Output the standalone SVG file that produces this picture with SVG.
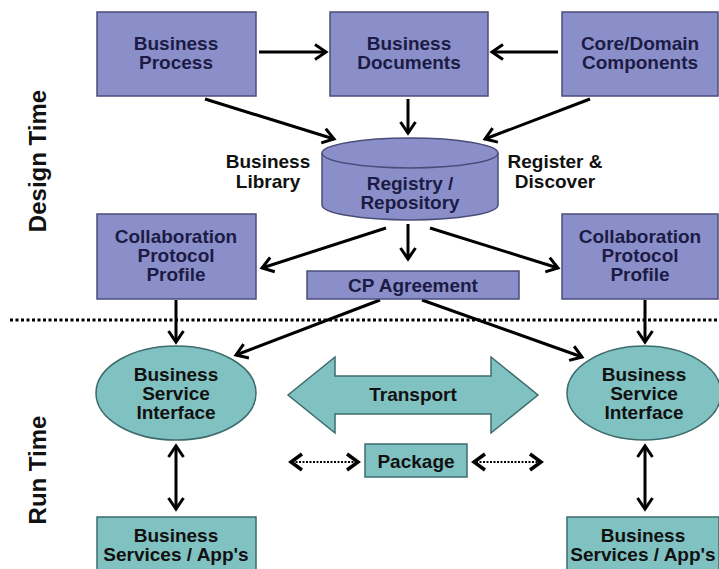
<svg xmlns="http://www.w3.org/2000/svg" width="719" height="569" viewBox="0 0 719 569">
<style>
.p{fill:#8b8fc9;stroke:#4a4d78;stroke-width:1.5}
.t{fill:#80c1c1;stroke:#3d6b6b;stroke-width:1.5}
text{font-family:"Liberation Sans",Arial,sans-serif;font-weight:bold;font-size:19px;text-anchor:middle}
.dk{fill:#1b1b45}
.bk{fill:#111}
.side{font-size:24px}
.c{stroke:#000;stroke-width:3;fill:none}
.d{stroke:#000;stroke-width:2;fill:none;stroke-dasharray:2 1.5}
.h{stroke:#000;stroke-width:3.5;fill:none}
</style>
<defs>
<marker id="a" markerUnits="userSpaceOnUse" markerWidth="20" markerHeight="20" refX="12" refY="8" orient="auto-start-reverse" viewBox="0 0 20 16">
<path d="M1,0.5 L12,8 L1,15.5" fill="none" stroke="#000" stroke-width="3"/>
</marker>
</defs>
<rect width="719" height="569" fill="#fff"/>
<g id="labels">
<text x="46" y="161" class="bk side" transform="rotate(-90 46 161)">Design Time</text>
<text x="46" y="470" class="bk side" transform="rotate(-90 46 470)">Run Time</text>
<text x="268" y="168" class="bk">Business</text>
<text x="268" y="188" class="bk">Library</text>
<text x="555" y="168" class="bk">Register &amp;</text>
<text x="555" y="188" class="bk">Discover</text>
</g>
<line x1="10" y1="320" x2="719" y2="320" stroke="#000" stroke-width="3" stroke-dasharray="3 2.5"/>
<g id="connectors">
<line class="c" x1="259" y1="52" x2="326" y2="52" marker-end="url(#a)"/>
<line class="c" x1="558" y1="52" x2="492" y2="52" marker-end="url(#a)"/>
<line class="c" x1="205" y1="99" x2="334" y2="139" marker-end="url(#a)"/>
<line class="c" x1="408" y1="99" x2="408" y2="133" marker-end="url(#a)"/>
<line class="c" x1="590" y1="99" x2="485" y2="139" marker-end="url(#a)"/>
<line class="c" x1="408" y1="224" x2="408" y2="259" marker-end="url(#a)"/>
<line class="c" x1="386" y1="228" x2="262" y2="268" marker-end="url(#a)"/>
<line class="c" x1="430" y1="228" x2="558" y2="268" marker-end="url(#a)"/>
<line class="c" x1="176" y1="300" x2="176" y2="342" marker-end="url(#a)"/>
<line class="c" x1="645" y1="300" x2="645" y2="342" marker-end="url(#a)"/>
<line class="c" x1="380" y1="300" x2="236" y2="355" marker-end="url(#a)"/>
<line class="c" x1="422" y1="300" x2="582" y2="357" marker-end="url(#a)"/>
<line class="c" x1="176" y1="446" x2="176" y2="509" marker-start="url(#a)" marker-end="url(#a)"/>
<line class="c" x1="645" y1="446" x2="645" y2="509" marker-start="url(#a)" marker-end="url(#a)"/>
<line class="d" x1="292" y1="462" x2="356" y2="462"/>
<line class="d" x1="476" y1="462" x2="540" y2="462"/>
<path d="M302,454 L291,462 L302,470 M347,454 L358,462 L347,470 M485,454 L474,462 L485,470 M530,454 L541,462 L530,470" class="h"/>
</g>
<g id="bp"><rect class="p" x="97" y="12" width="159" height="84"/><text class="dk" x="176" y="50">Business</text><text class="dk" x="176" y="69">Process</text></g>
<g id="bd"><rect class="p" x="330" y="12" width="158" height="84"/><text class="dk" x="409" y="50">Business</text><text class="dk" x="409" y="69">Documents</text></g>
<g id="cdc"><rect class="p" x="562" y="12" width="156" height="84"/><text class="dk" x="640" y="50">Core/Domain</text><text class="dk" x="640" y="69">Components</text></g>
<g id="repo">
<path class="p" d="M322,153 L322,205 A88,15 0 0 0 498,205 L498,153"/>
<ellipse class="p" cx="410" cy="153" rx="88" ry="15"/>
<text class="dk" x="410" y="190">Registry /</text><text class="dk" x="410" y="209">Repository</text>
</g>
<g id="cpp1"><rect class="p" x="97" y="214" width="159" height="85"/><text class="dk" x="176" y="243">Collaboration</text><text class="dk" x="176" y="262">Protocol</text><text class="dk" x="176" y="281">Profile</text></g>
<g id="cpp2"><rect class="p" x="562" y="214" width="156" height="85"/><text class="dk" x="640" y="243">Collaboration</text><text class="dk" x="640" y="262">Protocol</text><text class="dk" x="640" y="281">Profile</text></g>
<g id="cpa"><rect class="p" x="307" y="271" width="212" height="28"/><text class="dk" x="413" y="292">CP Agreement</text></g>
<g id="bsi1"><ellipse class="t" cx="176" cy="393" rx="80" ry="47"/><text class="bk" x="176" y="381">Business</text><text class="bk" x="176" y="400">Service</text><text class="bk" x="176" y="419">Interface</text></g>
<g id="bsi2"><ellipse class="t" cx="644" cy="393" rx="77" ry="47"/><text class="bk" x="644" y="381">Business</text><text class="bk" x="644" y="400">Service</text><text class="bk" x="644" y="419">Interface</text></g>
<g id="transport"><path class="t" d="M288,395 L335,357 L335,376 L491,376 L491,357 L538,395 L491,433 L491,414 L335,414 L335,433 Z"/><text class="bk" x="413" y="401">Transport</text></g>
<g id="package"><rect class="t" x="365" y="444" width="102" height="33"/><text class="bk" x="416" y="468">Package</text></g>
<g id="bs1"><rect class="t" x="97" y="517" width="159" height="60"/><text class="bk" x="176" y="542">Business</text><text class="bk" x="176" y="561">Services / App's</text></g>
<g id="bs2"><rect class="t" x="567" y="517" width="152" height="60"/><text class="bk" x="643" y="542">Business</text><text class="bk" x="643" y="561">Services / App's</text></g>
</svg>
